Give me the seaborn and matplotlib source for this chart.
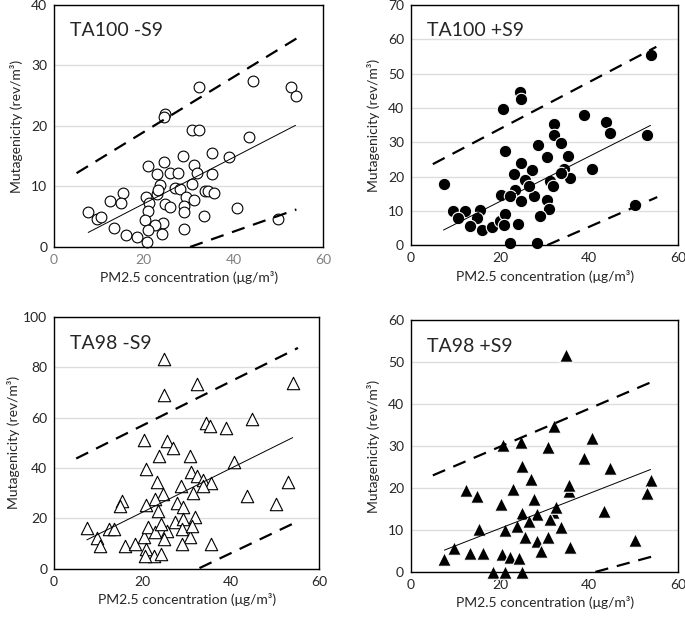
import numpy as np
import pandas as pd
import matplotlib
matplotlib.use("Agg")
import matplotlib.pyplot as plt
import seaborn as sns

sns.set_style("white")
plt.rcParams['font.family'] = ['Lato', 'DejaVu Sans']

# ---- data ----
# TA100 -S9 (open circles)
ta100_m_pm = [44.4, 32.4, 52.9, 53.8, 24.7, 24.5, 30.7, 32.4, 43.4, 35.2, 39.0, 28.7,
              20.9, 24.5, 31.2, 22.9, 25.8, 27.7, 31.9, 35.2, 23.6, 30.7, 27.0, 28.1,
              15.3, 33.6, 34.4, 35.6, 22.9, 12.5, 14.9, 20.5, 29.5, 31.2, 21.2, 24.7,
              25.8, 29.0, 29.0, 40.7, 7.6, 9.5, 10.5, 21.0, 20.3, 24.2, 22.5, 33.5,
              50.0, 13.4, 21.0, 29.0, 16.0, 18.4, 24.0, 20.6, 23.2]
ta100_m_mut = [27.5, 26.4, 26.4, 24.9, 21.9, 21.4, 19.4, 19.3, 18.1, 15.6, 14.9, 15.0,
               13.4, 14.0, 13.6, 12.0, 12.2, 12.3, 12.3, 12.0, 10.2, 10.4, 9.7, 9.5,
               9.0, 9.2, 9.2, 9.0, 8.8, 7.6, 7.3, 8.3, 8.3, 7.7, 7.2, 7.1,
               6.6, 6.7, 5.8, 6.4, 5.8, 4.7, 4.9, 6.0, 4.4, 4.0, 3.7, 5.2,
               4.7, 3.1, 2.8, 3.0, 1.9, 1.7, 2.2, 0.8, 9.4]

# TA100 +S9 (filled circles)
ta100_p_pm = [54.0, 24.4, 24.8, 20.7, 38.95, 43.7, 44.6, 53.0, 32.2, 32.2, 33.6, 28.5,
              21.0, 30.6, 35.2, 24.7, 27.2, 40.7, 34.3, 35.7, 23.2, 25.5, 7.3, 31.2,
              31.9, 23.4, 20.2, 22.3, 27.6, 30.6, 24.7, 30.9, 9.4, 12.2, 15.4, 10.5,
              14.8, 13.2, 15.9, 18.2, 20.1, 21.2, 20.9, 24.0, 28.9, 22.3, 28.2, 50.2,
              26.4, 33.6]
ta100_p_mut = [55.5, 44.6, 42.5, 39.7, 37.9, 35.9, 32.7, 32.2, 35.4, 32.2, 29.8, 29.1,
               27.3, 25.7, 25.9, 23.9, 21.8, 22.3, 22.3, 19.5, 20.8, 19.0, 17.8, 18.6,
               17.1, 16.1, 14.6, 14.2, 14.2, 13.2, 13.0, 10.4, 9.8, 9.8, 10.1, 7.8,
               7.8, 5.6, 4.4, 5.4, 7.1, 9.1, 5.9, 6.2, 8.5, 0.5, 0.5, 11.7,
               17.1, 21.0]

# TA98 -S9 (open triangles)
ta98_m_pm = [24.9, 32.4, 54.0, 24.9, 44.8, 34.4, 35.3, 39.0, 20.3, 25.6, 27.0, 23.7,
             30.7, 40.7, 20.7, 31.0, 32.3, 33.8, 35.4, 53.0, 23.2, 28.7, 31.5, 43.6,
             50.2, 24.6, 22.8, 20.8, 27.7, 29.2, 15.4, 14.9, 23.6, 7.4, 12.5, 13.6,
             9.6, 10.4, 16.1, 18.3, 20.3, 21.3, 22.8, 25.5, 24.9, 27.4, 29.2, 31.9,
             30.7, 28.9, 35.6, 20.8, 22.5, 24.3, 20.6, 28.9, 31.1, 33.6, 24.2]
ta98_m_mut = [83.3, 73.2, 73.8, 69.2, 59.6, 57.8, 56.7, 56.0, 51.2, 50.8, 48.1, 44.8,
              44.8, 42.5, 39.8, 38.5, 36.9, 35.3, 34.0, 34.6, 34.3, 32.7, 30.3, 29.0,
              25.7, 29.7, 27.7, 25.5, 26.1, 24.4, 27.0, 24.8, 23.1, 16.2, 15.8, 15.8,
              12.1, 9.2, 9.0, 9.9, 12.5, 16.5, 14.5, 15.2, 11.9, 18.5, 19.8, 20.4,
              12.5, 9.9, 9.9, 7.9, 5.3, 5.9, 5.0, 15.8, 17.1, 33.0, 18.0]

# TA98 +S9 (filled triangles)
ta98_p_pm = [34.7, 32.1, 40.7, 20.7, 24.8, 30.7, 38.95, 24.9, 44.6, 27.0, 53.9, 12.4,
             14.8, 22.9, 35.4, 53.0, 27.7, 20.2, 24.9, 28.3, 31.9, 31.3, 43.4, 15.2,
             21.2, 23.8, 33.6, 25.7, 30.7, 28.3, 9.6, 13.2, 16.2, 20.4, 22.3, 24.2,
             29.1, 35.7, 50.2, 7.5, 18.4, 21.2, 24.9, 26.4, 35.4, 32.5]
ta98_p_mut = [51.7, 34.7, 32.0, 30.2, 31.0, 29.8, 27.2, 25.2, 24.8, 22.2, 22.0, 19.4,
              18.2, 19.8, 19.2, 18.8, 17.4, 16.2, 14.0, 13.8, 14.2, 12.6, 14.6, 10.2,
              10.0, 11.0, 10.8, 8.4, 8.4, 7.4, 5.8, 4.5, 4.6, 4.2, 3.6, 3.4,
              5.0, 6.0, 7.6, 3.0, 0.0, 0.0, 0.0, 12.2, 20.8, 15.5]

# fitted line and upper / lower dashed bounds: [x_start, x_end], [y_start, y_end]
fit_x = {'a': [7.6, 53.8], 'b': [7.3, 53.8], 'c': [7.4, 54.0], 'd': [7.5, 53.8]}
fit_y = {'a': [2.4, 20.1], 'b': [4.4, 34.9], 'c': [11.5, 52.1], 'd': [5.2, 24.4]}
up_x = {'a': [5.0, 55.0], 'b': [4.9, 55.1], 'c': [5.0, 55.2], 'd': [4.9, 54.6]}
up_y = {'a': [12.2, 34.9], 'b': [23.6, 57.8], 'c': [43.8, 87.7], 'd': [23.0, 45.5]}
lo_x = {'a': [30.3, 54.0], 'b': [30.6, 55.3], 'c': [32.9, 55.2], 'd': [41.4, 55.3]}
lo_y = {'a': [0.0, 6.2], 'b': [0.0, 14.0], 'c': [0.3, 18.9], 'd': [0.0, 4.0]}

titles = {'a': 'TA100 -S9', 'b': 'TA100 +S9', 'c': 'TA98 -S9', 'd': 'TA98 +S9'}
ymax = {'a': 40, 'b': 70, 'c': 100, 'd': 60}
ystep = {'a': 10, 'b': 10, 'c': 20, 'd': 10}
pm_data = {'a': ta100_m_pm, 'b': ta100_p_pm, 'c': ta98_m_pm, 'd': ta98_p_pm}
mut_data = {'a': ta100_m_mut, 'b': ta100_p_mut, 'c': ta98_m_mut, 'd': ta98_p_mut}

fig = plt.figure(figsize=(6.85, 6.19), dpi=100)
boxes = {'a': [0.079, 0.601, 0.393, 0.391],
         'b': [0.600, 0.604, 0.390, 0.388],
         'c': [0.079, 0.081, 0.387, 0.407],
         'd': [0.600, 0.076, 0.390, 0.407]}
styles = {'a': dict(marker='o', s=60, facecolor='white', edgecolor='black', linewidth=0.8),
          'b': dict(marker='o', s=80, facecolor='black', edgecolor='white', linewidth=0.8),
          'c': dict(marker='^', s=80, facecolor='white', edgecolor='black', linewidth=0.8),
          'd': dict(marker='^', s=95, facecolor='black', edgecolor='white', linewidth=0.8)}
ylab_pad = {'a': 6, 'b': 6, 'c': 2, 'd': 6}

for k in ['a', 'b', 'c', 'd']:
    ax = fig.add_axes(boxes[k])
    df = pd.DataFrame({'pm': pm_data[k], 'mut': mut_data[k]})
    ax.set_xlim(0, 60)
    ax.set_ylim(0, ymax[k])
    ax.set_yticks(np.arange(0, ymax[k] + 1, ystep[k]))
    ax.set_xticks([0, 20, 40, 60])
    ax.grid(axis='y', color='#dddddd', linewidth=1.0)
    ax.set_axisbelow(True)
    sns.scatterplot(data=df, x='pm', y='mut', ax=ax, zorder=3, clip_on=False, **styles[k])
    ax.plot(fit_x[k], fit_y[k], color='black', linewidth=0.7, zorder=4)
    ax.plot(up_x[k], up_y[k], color='black', linewidth=1.6, dashes=(6, 4), zorder=4)
    ax.plot(lo_x[k], lo_y[k], color='black', linewidth=1.6, dashes=(6, 4), zorder=4)
    for sp in ax.spines.values():
        sp.set_color('black')
        sp.set_linewidth(1.0)
        sp.set_zorder(5)
    ax.tick_params(axis='both', length=0, labelsize=10, pad=5)
    ax.set_xlabel('PM2.5 concentration (μg/m³)', fontsize=10, labelpad=4)
    ax.set_ylabel('Mutagenicity (rev/m³)', fontsize=10, labelpad=ylab_pad[k])
    ax.text(0.06, 0.93, titles[k], transform=ax.transAxes, fontsize=14,
            ha='left', va='top')
    if k == 'a':
        ax.tick_params(axis='x', labelcolor='#808080')

fig.savefig('out.png', dpi=100)
